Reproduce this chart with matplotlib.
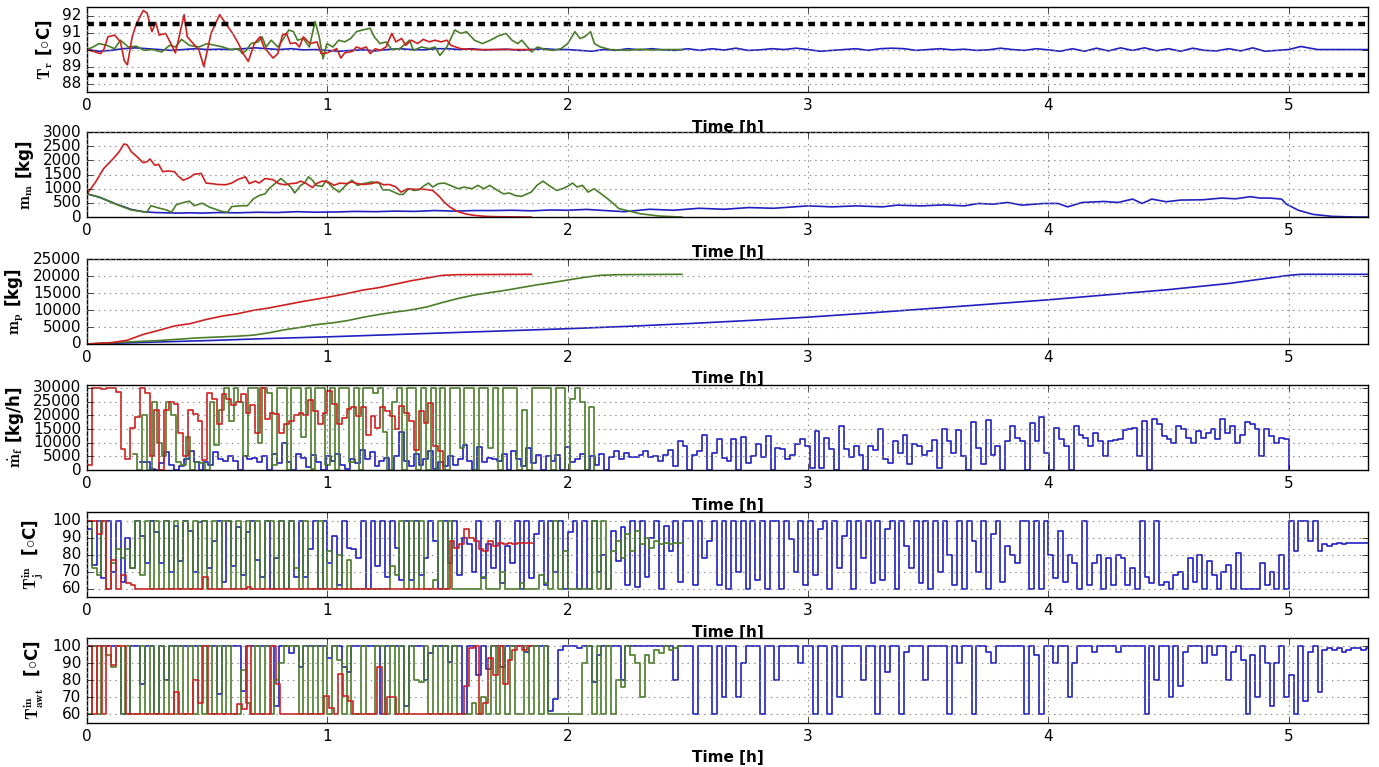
import numpy as np
import matplotlib
matplotlib.use("Agg")
import matplotlib.pyplot as plt

# ------------------------------------------------------------------ data
# Panel 1: reactor temperature T_r [degC]
tr_blue_t = [round(0.05 * i, 2) for i in range(102)] + [5.12, 5.33]
tr_blue = [90.0, 89.9, 89.95, 90.05, 90.1, 90.05, 90.0, 89.95, 90.0, 90.05,
           90.0, 90.02, 90.0, 90.05, 90.1, 90.05, 90.0, 90.05, 89.98, 90.0,
           89.95, 89.9, 89.95, 89.98, 89.92, 90.0, 90.05, 90.0, 89.98, 90.05,
           90.05, 90.0, 90.05, 89.97, 90.0, 90.02, 89.95, 90.0, 90.05, 90.0,
           90.0, 89.95, 89.9, 90.0, 89.95, 90.05, 89.98, 90.05, 89.98, 89.95,
           90.05, 89.95, 90.05, 89.97, 90.08, 89.95, 89.98, 90.05, 90.0, 90.08,
           90.0, 89.9, 89.95, 90.0, 90.05, 89.95, 90.05, 90.08, 90.05, 89.95,
           90.0, 90.05, 89.98, 90.02, 89.95, 89.98, 90.08, 90.0, 89.95, 90.05,
           89.98, 89.9, 90.05, 89.9, 90.08, 89.92, 90.1, 89.95, 90.1, 89.93,
           90.05, 89.9, 90.08, 89.95, 89.92, 90.05, 89.92, 90.1, 89.9, 89.95,
           90.0, 90.18, 90.0, 90.0]

tr_red_t = [0.0, 0.033, 0.057, 0.070, 0.087, 0.115, 0.139, 0.155, 0.168, 0.188,
            0.205, 0.234, 0.25, 0.270, 0.286, 0.3, 0.327, 0.349, 0.368, 0.404,
            0.417, 0.442, 0.466, 0.486, 0.516, 0.552, 0.581, 0.606, 0.630, 0.650,
            0.671, 0.696, 0.72, 0.736, 0.774, 0.794, 0.813, 0.830, 0.846, 0.868,
            0.884, 0.900, 0.928, 0.957, 0.974, 0.998, 1.023, 1.039, 1.056, 1.072,
            1.105, 1.121, 1.141, 1.162, 1.178, 1.2, 1.219, 1.244, 1.268, 1.285,
            1.309, 1.326, 1.35, 1.375, 1.399, 1.424, 1.448, 1.473, 1.497, 1.514,
            1.555, 1.612, 1.85]
tr_red = [90.0, 89.86, 89.76, 90.0, 90.75, 90.85, 90.45, 89.35, 89.1, 90.75,
          91.5, 92.3, 92.15, 91.05, 91.6, 90.85, 90.95, 90.35, 89.8, 92.05,
          90.75, 90.35, 89.95, 89.0, 90.95, 92.05, 91.45, 90.95, 90.35, 89.76,
          89.3, 90.35, 90.75, 90.15, 89.5, 89.76, 90.85, 90.95, 90.35, 90.4,
          90.15, 90.75, 90.35, 90.45, 89.76, 89.8, 89.95, 90.05, 89.5, 89.8,
          89.9, 90.15, 90.05, 90.15, 89.76, 90.05, 89.95, 90.15, 90.95, 90.45,
          90.65, 90.25, 90.55, 90.35, 90.6, 90.45, 90.55, 90.45, 90.55, 90.25,
          90.05, 90.0, 90.0]

tr_green_t = [0.0, 0.025, 0.049, 0.082, 0.115, 0.139, 0.172, 0.205, 0.237, 0.27,
              0.311, 0.344, 0.368, 0.393, 0.426, 0.466, 0.499, 0.532, 0.565, 0.597,
              0.630, 0.646, 0.663, 0.682, 0.712, 0.728, 0.745, 0.766, 0.794, 0.818,
              0.839, 0.859, 0.876, 0.900, 0.925, 0.949, 0.966, 0.982, 0.998, 1.023,
              1.047, 1.072, 1.097, 1.121, 1.146, 1.178, 1.195, 1.219, 1.244, 1.268,
              1.301, 1.342, 1.358, 1.391, 1.424, 1.448, 1.468, 1.497, 1.53, 1.555,
              1.579, 1.612, 1.645, 1.678, 1.711, 1.743, 1.768, 1.792, 1.809, 1.85,
              1.874, 1.907, 1.940, 1.972, 2.0, 2.03, 2.051, 2.07, 2.095, 2.111,
              2.136, 2.177, 2.25, 2.3, 2.35, 2.4, 2.475]
tr_green = [90.0, 90.15, 90.35, 90.25, 90.05, 90.55, 90.15, 90.2, 89.95, 90.0,
            89.86, 90.25, 90.15, 90.6, 90.25, 90.15, 90.35, 90.25, 90.15, 90.0,
            90.05, 89.76, 89.95, 90.35, 90.45, 90.75, 90.15, 90.55, 90.15, 90.65,
            91.15, 91.05, 90.55, 90.65, 90.15, 91.65, 90.75, 89.45, 90.35, 90.15,
            90.55, 90.45, 90.65, 91.05, 91.15, 91.25, 90.75, 90.35, 90.45, 90.0,
            90.05, 90.55, 89.95, 90.15, 90.05, 90.15, 89.65, 90.15, 91.15, 90.95,
            91.05, 90.55, 90.35, 90.55, 90.8, 90.95, 90.55, 90.35, 90.55, 89.86,
            90.15, 90.0, 89.95, 90.05, 90.35, 91.05, 90.65, 90.75, 91.05, 90.35,
            90.15, 90.0, 89.95, 90.02, 89.97, 90.0, 90.0]
tr_limits = [91.5, 88.5]

# Panel 2: monomer mass m_m [kg]
mm_red_t = [0, 0.036, 0.069, 0.110, 0.134, 0.154, 0.167, 0.184, 0.208, 0.233,
            0.249, 0.262, 0.282, 0.298, 0.315, 0.339, 0.364, 0.380, 0.4, 0.426,
            0.446, 0.475, 0.495, 0.520, 0.544, 0.577, 0.602, 0.626, 0.659, 0.675,
            0.7, 0.716, 0.741, 0.774, 0.798, 0.823, 0.848, 0.872, 0.889, 0.913,
            0.938, 0.954, 0.979, 1.003, 1.028, 1.052, 1.077, 1.102, 1.126, 1.151,
            1.184, 1.208, 1.233, 1.257, 1.282, 1.307, 1.331, 1.364, 1.405, 1.438,
            1.462, 1.487, 1.511, 1.544, 1.577, 1.610, 1.659, 1.708, 1.848]
mm_red = [820, 1240, 1710, 2070, 2310, 2580, 2550, 2310, 2130, 1920,
          1950, 2050, 1830, 1860, 1600, 1630, 1600, 1440, 1300, 1390,
          1510, 1540, 1200, 1180, 1150, 1140, 1200, 1320, 1420, 1180,
          1270, 1200, 1360, 1320, 1180, 1140, 1180, 1200, 1270, 1180,
          1040, 1180, 1270, 1240, 1120, 1200, 1180, 1240, 1180, 1150,
          1180, 1240, 1140, 1150, 1080, 880, 990, 980, 980, 940,
          760, 520, 345, 190, 107, 60, 24, 12, 0]

mm_green_t = [0, 0.052, 0.118, 0.184, 0.249, 0.266, 0.298, 0.331, 0.351, 0.372,
              0.405, 0.426, 0.446, 0.479, 0.511, 0.561, 0.585, 0.602, 0.643, 0.667,
              0.692, 0.716, 0.741, 0.757, 0.782, 0.807, 0.823, 0.848, 0.864, 0.889,
              0.905, 0.921, 0.938, 0.954, 0.979, 0.995, 1.020, 1.049, 1.077, 1.102,
              1.126, 1.151, 1.184, 1.216, 1.230, 1.257, 1.298, 1.315, 1.339, 1.361,
              1.380, 1.405, 1.421, 1.438, 1.462, 1.487, 1.511, 1.544, 1.569, 1.602,
              1.626, 1.651, 1.675, 1.708, 1.733, 1.757, 1.782, 1.807, 1.848, 1.872,
              1.897, 1.921, 1.954, 1.979, 1.998, 2.020, 2.039, 2.061, 2.085, 2.110,
              2.134, 2.167, 2.192, 2.213, 2.3, 2.38, 2.475]
mm_green = [820, 700, 460, 250, 170, 400, 320, 250, 170, 440,
            520, 560, 400, 490, 345, 200, 170, 370, 400, 400,
            640, 760, 820, 1000, 1180, 1360, 1240, 1060, 850, 1120,
            1200, 1420, 1300, 1120, 1080, 1300, 1060, 880, 1120, 1300,
            1120, 1180, 1240, 1200, 960, 960, 800, 800, 1000, 940,
            960, 1120, 1200, 1060, 1180, 1200, 1120, 1000, 1060, 1000,
            1120, 1000, 1120, 940, 820, 850, 760, 730, 880, 1120,
            1270, 1120, 940, 1000, 1080, 1200, 1060, 1120, 880, 1000,
            850, 640, 460, 300, 120, 36, 0]

mm_blue_t = [0, 0.052, 0.118, 0.184, 0.233, 0.282, 0.331, 0.38, 0.43, 0.48,
             0.544, 0.626, 0.708, 0.79, 0.872, 0.954, 1.036, 1.118, 1.2, 1.282,
             1.364, 1.446, 1.528, 1.61, 1.69, 1.77, 1.85, 1.93, 1.998, 2.08,
             2.134, 2.237, 2.34, 2.44, 2.547, 2.65, 2.754, 2.857, 3.0, 3.1,
             3.2, 3.31, 3.37, 3.47, 3.57, 3.65, 3.71, 3.77, 3.83, 3.89,
             3.98, 4.04, 4.08, 4.14, 4.23, 4.29, 4.35, 4.39, 4.43, 4.49,
             4.55, 4.64, 4.72, 4.78, 4.84, 4.88, 4.92, 4.97, 4.99, 5.04,
             5.1, 5.18, 5.28, 5.33]
mm_blue = [820, 700, 470, 270, 190, 160, 150, 140, 150, 140,
           160, 150, 170, 160, 190, 170, 180, 200, 190, 210,
           200, 230, 210, 230, 230, 240, 220, 250, 240, 270,
           240, 190, 275, 240, 310, 275, 335, 310, 395, 360,
           395, 360, 420, 395, 430, 395, 480, 455, 515, 420,
           480, 480, 360, 515, 550, 515, 635, 480, 635, 540,
           600, 610, 670, 645, 720, 670, 670, 635, 455, 240,
           96, 24, 0, 0]

# Panel 3: polymer mass m_p [kg]
mp_red_t = [0, 0.102, 0.167, 0.233, 0.298, 0.364, 0.430, 0.495, 0.561, 0.626,
            0.692, 0.757, 0.823, 0.889, 0.954, 1.020, 1.085, 1.151, 1.216, 1.282,
            1.348, 1.413, 1.479, 1.544, 1.848]
mp_red = [0, 400, 1100, 2800, 4000, 5300, 6000, 7200, 8200, 8900,
          9900, 10600, 11500, 12400, 13200, 14000, 14900, 15900, 16600, 17600,
          18600, 19400, 20200, 20400, 20500]
mp_green_t = [0, 0.134, 0.298, 0.461, 0.626, 0.692, 0.757, 0.823, 0.889, 0.954,
              1.020, 1.085, 1.151, 1.216, 1.282, 1.348, 1.413, 1.479, 1.544, 1.610,
              1.675, 1.741, 1.807, 1.872, 1.938, 1.998, 2.069, 2.134, 2.213, 2.475]
mp_green = [0, 500, 1000, 1800, 2300, 2600, 3300, 4200, 4900, 5700,
            6200, 6900, 7900, 8700, 9400, 10000, 10900, 12200, 13400, 14400,
            15100, 15800, 16600, 17400, 18100, 18800, 19600, 20200, 20400, 20500]
mp_blue_t = [0, 0.25, 0.5, 0.75, 1.0, 1.25, 1.5, 1.75, 2.0, 2.25,
             2.5, 2.75, 3.0, 3.25, 3.5, 3.75, 4.0, 4.25, 4.5, 4.75,
             5.0, 5.05, 5.33]
mp_blue = [0, 500, 1000, 1600, 2100, 2700, 3300, 3900, 4500, 5200,
           6000, 6900, 7900, 9100, 10400, 11700, 13000, 14500, 16000, 17800,
           20200, 20500, 20500]

# Panel 4: feed rate mdot_f [kg/h] (piecewise constant, last entry = value after end)
mf_red_span = (0.0, 1.48)
mf_red = [2000, 30000, 30000, 29500, 30000, 30000, 28500, 7700, 4000, 15500,
          19500, 30000, 28000, 5000, 22000, 0, 22000, 25000, 24000, 13600,
          5000, 22000, 20400, 18000, 3700, 28000, 26000, 17000, 27800, 26000,
          23700, 24700, 27800, 21000, 23700, 13600, 30000, 18500, 21000, 20400,
          13600, 17000, 18000, 20000, 21000, 20000, 25700, 21600, 17000, 21000,
          29000, 24000, 16700, 19000, 22200, 23200, 19800, 23000, 13000, 19800,
          15400, 23000, 21600, 19800, 15000, 23300, 21000, 17800, 7500, 21500,
          17200, 24500, 8700, 7000, 0]
mf_green_span = (0.19, 2.11)
mf_green = [6000, 0, 20000, 0, 25000, 10000, 5000, 25000, 20000, 3000,
            2000, 12000, 0, 3000, 2500, 0, 25000, 9000, 22000, 30000,
            18000, 30000, 25000, 5000, 30000, 30000, 10000, 30000, 28000, 2000,
            30000, 30000, 0, 30000, 30000, 12000, 30000, 500, 30000, 30000,
            2000, 30000, 0, 30000, 30000, 3000, 30000, 0, 30000, 30000,
            28000, 30000, 14000, 0, 25000, 30000, 0, 30000, 30000, 0,
            30000, 0, 30000, 0, 30000, 0, 30000, 30000, 8000, 30000,
            30000, 0, 30000, 30000, 8000, 30000, 0, 30000, 30000, 30000,
            0, 22000, 0, 30000, 30000, 30000, 30000, 0, 30000, 30000,
            0, 26000, 30000, 25000, 0, 23000, 0]
mf_blue_span = (0.22, 5.0)
mf_blue = [2800, 3000, 500, 0, 2500, 6500, 2000, 0, 1500, 4000,
           7000, 3000, 0, 3000, 2000, 6500, 4000, 3500, 5000, 3500,
           0, 5000, 4000, 4500, 3000, 5000, 0, 6000, 2500, 10000,
           3000, 0, 6000, 4500, 1000, 5500, 3000, 0, 5000, 3500,
           6000, 2000, 500, 4000, 2500, 7500, 4000, 6500, 1500, 3500,
           4500, 0, 5000, 14000, 3500, 1500, 6000, 2000, 4000, 7000,
           500, 3000, 1500, 5000, 2000, 4000, 9000, 3500, 0, 8500,
           3000, 4500, 4000, 3500, 6000, 0, 7000, 4000, 1500, 8000,
           2500, 5500, 0, 5000, 3500, 5500, 0, 8500, 3000, 4000,
           6000, 0, 5000, 2000, 6000, 0,
           4900, 7000, 3900, 6300, 4900, 4900, 5700, 7000, 4900, 5100,
           3300, 5700, 7300, 1500, 10600, 8800, 0, 5700, 7000, 13000,
           0, 6300, 11200, 4500, 3300, 11200, 0, 12200, 2700, 5100,
           9400, 4900, 12400, 0, 8200, 7600, 3900, 5700, 9400, 11200,
           8800, 850, 14300, 850, 11800, 7600, 0, 16100, 7600, 4900,
           8800, 5700, 0, 8800, 7300, 14900, 3900, 2700, 10600, 6100,
           13000, 2100, 9400, 8800, 5700, 7000, 11000, 850, 14900, 10600,
           6300, 14600, 5100, 0, 17600, 8200, 2100, 18300, 5700, 8800,
           0, 10600, 16100, 11800, 10600, 0, 17300, 10600, 19500, 6300,
           0, 15500, 11200, 8800, 0, 16100, 13000, 11800, 8800, 13700,
           10600, 5100, 10600, 10900, 11200, 14600, 14900, 15500, 5100, 17900,
           0, 18800, 16700, 12400, 11200, 9800, 16100, 14900, 11800, 10000,
           14300, 11800, 13700, 14900, 11500, 18500, 13700, 16100, 10000, 12700,
           17600, 16700, 15100, 5100, 14900, 12400, 10000, 11800, 11200, 0]

# Panel 5: jacket inlet temperature T_j^in [degC]
tj_red_span = (0.0, 1.85)
tj_red = [100, 100, 92, 100, 60, 77, 60, 68, 63, 62,
          60, 60, 60, 60, 60, 60, 60, 60, 60, 60, 60, 60, 60, 60,
          67,
          60, 60, 60, 60, 60, 60, 60, 60,
          61,
          60, 60, 60, 60, 60, 60, 60, 60, 60, 60,
          60, 60, 60, 60, 60, 60, 60, 60, 60, 60,
          60, 60, 60, 60, 60, 60, 60, 60, 60, 60,
          60, 60, 60, 60, 60, 60, 60, 60, 60, 60, 60,
          88, 84, 86, 95, 90, 88, 83, 82, 88, 85, 87, 86, 87, 86, 86.5, 87, 87]
tj_green_span = (0.0, 2.48)
tj_green = [100, 72, 68, 100, 60, 75, 83, 78, 83, 72,
            100, 68, 100, 60, 100, 60, 100, 60, 100, 60,
            100, 60, 100, 60, 100, 60, 100, 60, 100, 100,
            60, 100, 60, 100, 60, 100, 60, 100, 100, 60,
            100, 60, 100, 72, 60, 100, 60, 60, 100, 60,
            82, 60, 80, 60, 77, 60, 60, 60, 60, 60,
            60, 60, 60, 73, 68, 100, 60, 100, 60, 100,
            60, 60, 65, 100, 60, 100, 60, 60, 60, 60,
            60, 60, 67, 60, 60, 60, 70, 60, 60, 60,
            63, 60, 60, 60, 68, 63, 60, 100, 60, 82,
            60, 60, 60, 60, 60, 100, 60, 100, 60, 82,
            88, 78, 92, 82, 94, 86, 90, 84, 88, 86,
            87, 86, 87, 87]
tj_blue_span = (0.0, 5.34)
tj_blue = [95, 74, 100, 66, 100, 70, 100, 64, 90, 72,
           100, 91, 75, 100, 93, 75, 100, 70, 97, 76,
           100, 94, 70, 99, 100, 72, 88, 100, 64, 100,
           73, 96, 68, 93, 100, 77, 67, 100, 60, 78,
           100, 60, 100, 67, 100, 67, 83, 100, 60, 100,
           75, 91, 62, 100, 84, 83, 78, 100, 60, 100,
           73, 100, 67, 100, 84, 65, 100, 65, 100, 68,
           78, 100, 88, 60, 100, 75, 100, 68, 90, 86,
           70, 100, 66, 86, 72, 100, 63, 85, 75, 100,
           60, 100, 66, 92, 100, 62, 100, 70, 100, 60,
           93, 100, 60, 100, 60, 100, 70,
           80, 60, 94, 76, 96, 62, 100, 61, 100, 67,
           90, 100, 60, 97, 82, 100, 64, 100, 100, 62,
           100, 78, 88, 100, 62, 100, 60, 100, 70, 100,
           60, 100, 65, 100, 60, 100, 100, 60, 100, 89,
           70, 100, 62,
           100, 68, 95, 100, 60, 100, 72, 91, 100, 60,
           100, 78, 100, 63, 100, 65, 95, 100, 60, 100,
           85, 72, 100, 63, 100, 60, 100, 70, 100, 80,
           62, 100, 60, 100, 88, 70, 100, 60, 92, 100,
           64, 85, 80, 75, 100, 100, 60, 100, 60, 100,
           80, 66, 94, 64, 80, 75, 60, 100, 62, 75,
           80, 60, 78, 62, 80, 78, 62, 72, 60, 100,
           67, 63, 100, 62, 64, 60, 68, 70, 60, 78,
           64, 80, 60, 76, 68, 60, 70, 74, 60, 81,
           60, 60, 60, 60, 75, 62, 70, 60, 80, 60,
           100, 82, 100,
           100, 88, 100, 82, 86, 85, 86, 86.5, 86, 87, 87, 86.5, 87, 87]

# Panel 6: jacket/water tank inlet temperature T_awt^in [degC]
ta_red_span = (0.0, 1.85)
ta_red = [100, 60, 100, 60, 100, 89, 100, 100, 60,
          60, 60, 60, 60, 60, 60, 60, 60, 60,
          73, 60, 60, 60, 80, 67, 100,
          60, 60, 60, 60, 60, 60,
          66, 63, 100, 60, 60, 60, 60, 100, 78,
          60, 60, 60, 60, 60, 60, 60, 60, 60,
          71, 64, 60, 84, 71, 68, 60, 60, 60, 60, 60,
          88, 60, 70, 70,
          60, 60, 60, 60, 60, 60, 60, 60, 60, 60, 60, 60, 60, 60,
          77, 99, 100, 60, 67, 93, 83, 100, 78, 92, 98, 100, 98, 100]
ta_green_span = (0.0, 2.48)
ta_green = [60, 100, 60, 100, 95, 88, 100, 60, 100, 60,
            60, 100, 60, 100, 60, 100, 60, 100, 60, 100,
            60, 100, 60, 100, 60, 100, 60, 100, 60, 100,
            60, 60, 86, 67, 60, 100, 60, 100, 60, 80,
            90, 100, 100, 100, 60, 100, 60, 100, 60, 100,
            60, 100, 92, 60, 100, 60, 60, 100, 60, 60,
            100, 100, 60, 100, 60, 100, 60, 100, 80, 79,
            100, 60, 100, 60, 100, 60, 100, 60, 60, 60,
            67, 60, 70, 60, 100, 60, 100, 60, 100, 60,
            60, 100, 60, 100, 60, 100, 60, 60, 60, 60,
            60, 60, 60, 90, 100, 60, 100, 60, 100, 60,
            80, 76, 100, 95, 90, 70, 95, 90, 98, 96,
            100, 98, 99, 100]
ta_blue_span = (0.0, 5.34)
ta_blue = [100, 100, 100, 100, 100, 100, 100, 60, 60, 100,
           100, 78, 100, 100, 60, 100, 80, 100, 100, 100,
           100, 100, 100, 100, 100, 100, 100, 72, 100, 100,
           100, 100, 74, 100, 100, 100, 100, 100, 100, 65,
           100, 100, 96, 100, 88, 100, 100, 100, 100, 100,
           93, 100, 100, 88, 85, 100, 100, 100, 100, 100,
           100, 60, 100, 100, 100, 100, 65, 100, 100, 100,
           80, 96, 100, 100, 100, 91, 100, 100, 60, 100,
           100, 83, 100, 87, 100, 100, 88, 100, 100, 100,
           100, 97, 100, 100, 100, 100, 62, 69, 98, 100,
           100, 100, 99, 100, 100, 79, 95, 100, 100, 100,
           100, 80, 100, 100, 100, 100, 100, 100, 100, 100,
           100, 100, 80, 100, 100, 100, 60, 100, 100, 100,
           60, 100, 70, 100, 100, 70, 90, 100, 100, 100,
           60, 100, 100, 80, 100, 100, 100, 100, 90, 100,
           100, 60, 100, 100, 60, 100, 70, 100, 100, 100,
           100, 80, 100, 100, 60, 100, 85, 100, 100, 60,
           97, 100, 100, 100, 80, 100, 100, 100, 100, 60,
           100, 90, 100, 100, 60, 100, 100, 97, 90, 100,
           100, 100, 100, 100, 100, 60, 100, 95, 60, 100,
           100, 90, 100, 100, 70, 90, 100, 100, 100, 97,
           100, 100, 100, 100, 97, 100, 100, 100, 100, 100,
           60, 100, 80, 100, 100, 70, 100, 77, 97, 100,
           100, 100, 90, 100, 95, 100, 100, 80, 97, 100,
           92, 60, 95, 70, 100, 90, 65, 90, 100, 70,
           83, 60, 100, 68, 97, 100, 73, 98, 99, 98,
           99, 97, 98, 99, 99, 98, 99]

x_ticks = [0, 1, 2, 3, 4, 5]
x_max = 5.33

# ------------------------------------------------------------------ style
plt.style.use("classic")
plt.rcParams.update({
    "font.family": ["DejaVu Sans"],
    "font.size": 11,
    "xtick.labelsize": 11,
    "ytick.labelsize": 11,
    "mathtext.fontset": "cm",
    "savefig.facecolor": "white",
    "figure.facecolor": "white",
})

BLUE = "#2020c0"
GREEN = "#4a7d28"
RED = "#cf2020"
LW = 1.2

fig = plt.figure(figsize=(13.79, 7.67), dpi=100)
bottoms = [0.880, 0.717, 0.5515, 0.387, 0.2216, 0.0574]
axes = [fig.add_axes([0.0631, b, 0.929, 0.1108]) for b in bottoms]


def steps(ax, span, vals, color, hold_last=True):
    if hold_last:
        edges = np.linspace(span[0], span[1], len(vals) + 1)
        v = list(vals) + [vals[-1]]
    else:
        edges = np.linspace(span[0], span[1], len(vals))
        v = list(vals)
    ax.plot(edges, v, drawstyle="steps-post", color=color, lw=LW)


# Panel 1
ax = axes[0]
ax.plot(tr_blue_t, tr_blue, color=BLUE, lw=LW)
ax.plot(tr_green_t, tr_green, color=GREEN, lw=LW)
ax.plot(tr_red_t, tr_red, color=RED, lw=LW)
for yv in tr_limits:
    ax.axhline(yv, color="black", lw=3.2, ls=(0, (5.0, 3.8)))
ax.set_ylim(87.5, 92.5)
ax.set_yticks([88, 89, 90, 91, 92])
ax.set_ylabel(r"$\mathbf{T_r}$ [$\circ$C]", fontweight="bold", fontsize=12)

# Panel 2
ax = axes[1]
ax.plot(mm_blue_t, mm_blue, color=BLUE, lw=LW)
ax.plot(mm_green_t, mm_green, color=GREEN, lw=LW)
ax.plot(mm_red_t, mm_red, color=RED, lw=LW)
ax.set_ylim(0, 3000)
ax.set_yticks(range(0, 3001, 500))
ax.set_ylabel(r"$\mathbf{m_m}$ [kg]", fontweight="bold", fontsize=12)

# Panel 3
ax = axes[2]
ax.plot(mp_blue_t, mp_blue, color=BLUE, lw=LW)
ax.plot(mp_green_t, mp_green, color=GREEN, lw=LW)
ax.plot(mp_red_t, mp_red, color=RED, lw=LW)
ax.set_ylim(0, 25000)
ax.set_yticks(range(0, 25001, 5000))
ax.set_ylabel(r"$\mathbf{m_p}$ [kg]", fontweight="bold", fontsize=12)

# Panel 4
ax = axes[3]
steps(ax, mf_blue_span, mf_blue, BLUE, hold_last=False)
steps(ax, mf_green_span, mf_green, GREEN, hold_last=False)
steps(ax, mf_red_span, mf_red, RED, hold_last=False)
ax.set_ylim(0, 31000)
ax.set_yticks(range(0, 30001, 5000))
ax.set_ylabel(r"$\dot{\mathbf{m}}_\mathbf{f}$ [kg/h]", fontweight="bold", fontsize=12)

# Panel 5
ax = axes[4]
steps(ax, tj_blue_span, tj_blue, BLUE)
steps(ax, tj_green_span, tj_green, GREEN)
steps(ax, tj_red_span, tj_red, RED)
ax.set_ylim(55, 105)
ax.set_yticks([60, 70, 80, 90, 100])
ax.set_ylabel(r"$\mathbf{T_j^{in}}$  [$\circ$C]", fontweight="bold", fontsize=12)

# Panel 6
ax = axes[5]
steps(ax, ta_blue_span, ta_blue, BLUE)
steps(ax, ta_green_span, ta_green, GREEN)
steps(ax, ta_red_span, ta_red, RED)
ax.set_ylim(55, 105)
ax.set_yticks([60, 70, 80, 90, 100])
ax.set_ylabel(r"$\mathbf{T_{awt}^{in}}$  [$\circ$C]", fontweight="bold", fontsize=12)

for ax in axes:
    ax.set_xlim(0, x_max)
    ax.set_xticks(x_ticks)
    ax.grid(True, color="#888888", ls=":", lw=0.8)
    ax.set_xlabel("Time [h]", fontweight="bold", fontsize=11)
    ax.tick_params(direction="in", top=True, right=True)

fig.savefig("out.png", dpi=100)
